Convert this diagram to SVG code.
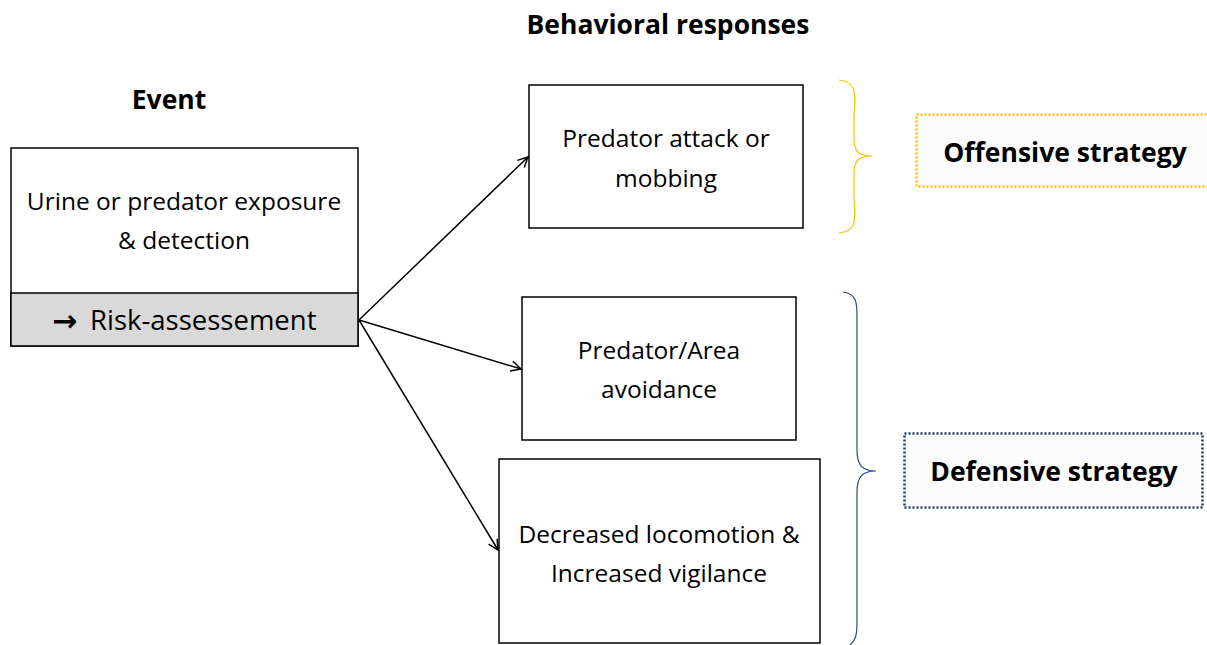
<svg xmlns="http://www.w3.org/2000/svg" width="1207" height="645" viewBox="0 0 1207 645">
<style>
.box{fill:#fff;stroke:#000;stroke-width:1.5}
.t{font-family:"Open Sans","Liberation Sans",Arial,sans-serif;font-size:24.5px;fill:#000;text-anchor:middle}
.h{font-family:"Open Sans","Liberation Sans",Arial,sans-serif;font-size:26.5px;font-weight:bold;fill:#000;text-anchor:middle}
.c{stroke:#000;stroke-width:1.5;fill:none;marker-end:url(#ah)}
</style>
<defs>
<marker id="ah" viewBox="0 0 12 12" refX="11" refY="6" markerWidth="12" markerHeight="12" markerUnits="userSpaceOnUse" orient="auto">
<path d="M1,1 L11,6 L1,11" fill="none" stroke="#000" stroke-width="1.5"/>
</marker>
</defs>
<text class="h" x="668" y="34">Behavioral responses</text>
<text class="h" x="169" y="109">Event</text>
<g id="event">
<rect class="box" x="11" y="148" width="347" height="198"/>
<rect x="11" y="293" width="347" height="53" fill="#d9d9d9" stroke="#000" stroke-width="1.5"/>
<text class="t" x="184" y="210">Urine or predator exposure</text>
<text class="t" x="184" y="249">&amp; detection</text>
<text x="52" y="330" style="font-family:'Open Sans','Liberation Sans',sans-serif;font-size:27.5px;fill:#000"><tspan style="font-family:'DejaVu Sans',sans-serif;font-size:30px;font-weight:bold" dy="1">→</tspan><tspan x="90" dy="-1">Risk-assessement</tspan></text>
</g>
<g id="attack">
<rect class="box" x="529" y="85" width="274" height="143"/>
<text class="t" x="666" y="147">Predator attack or</text>
<text class="t" x="666" y="187">mobbing</text>
</g>
<g id="avoid">
<rect class="box" x="522" y="297" width="274" height="143"/>
<text class="t" x="659" y="359">Predator/Area</text>
<text class="t" x="659" y="398">avoidance</text>
</g>
<g id="locomotion">
<rect class="box" x="499" y="459" width="321" height="184"/>
<text class="t" x="659" y="543">Decreased locomotion &amp;</text>
<text class="t" x="659" y="582">Increased vigilance</text>
</g>
<g id="connectors">
<line class="c" x1="359" y1="320" x2="528" y2="157"/>
<line class="c" x1="359" y1="320" x2="521" y2="369"/>
<line class="c" x1="359" y1="320" x2="498" y2="550"/>
</g>
<g id="brace-offensive">
<path d="M839,80 C860,82 854,100 854,118 L854,140 C854,152 860,156 872,156 C860,156 854,160 854,172 L854,196 C854,214 860,231 839,233" fill="none" stroke="#ffc000" stroke-width="1.2"/>
</g>
<g id="brace-defensive">
<path d="M843,292 C858,294 857,305 857,320 L857,450 C857,465 862,471 876,471 C862,471 857,477 857,492 L857,620 C857,635 856,640 850,645" fill="none" stroke="#2f4a7f" stroke-width="1.2"/>
</g>
<g id="offensive">
<rect x="916.5" y="114.5" width="300" height="72" fill="#fcfcfc" stroke="#ffc000" stroke-width="2.5" stroke-dasharray="2 2"/>
<text class="h" x="1065" y="162">Offensive strategy</text>
</g>
<g id="defensive">
<rect x="904.5" y="433.5" width="298" height="74" fill="#fcfcfc" stroke="#1f3864" stroke-width="2.5" stroke-dasharray="2 2"/>
<text class="h" x="1054" y="481">Defensive strategy</text>
</g>
</svg>
